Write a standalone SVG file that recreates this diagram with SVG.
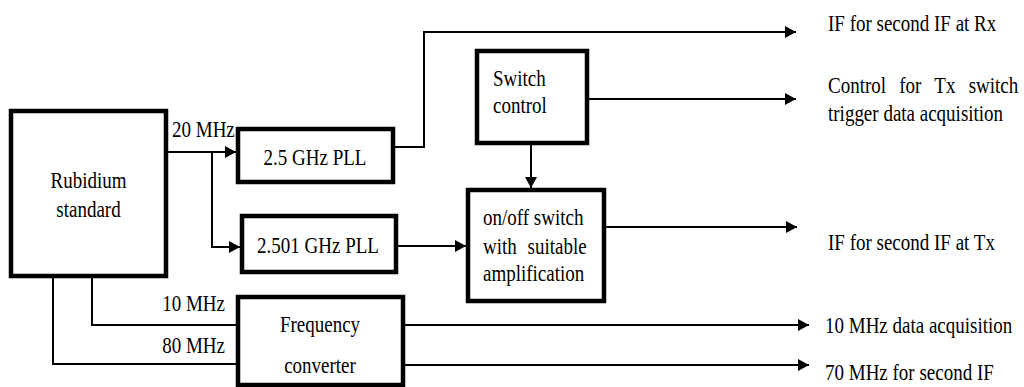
<svg xmlns="http://www.w3.org/2000/svg" width="1024" height="387" viewBox="0 0 1024 387">
  <style>
    .box { fill: #ffffff; stroke: #000000; stroke-width: 4.5; }
    .wire { fill: none; stroke: #000000; stroke-width: 2; }
    .arr { marker-end: url(#head); }
    text { font-family: "Liberation Serif", "Times New Roman", serif; font-size: 19px; fill: #000000; }
    .mid { text-anchor: middle; }
    .end { text-anchor: end; }
  </style>
  <defs>
    <marker id="head" markerUnits="userSpaceOnUse" markerWidth="12" markerHeight="12" refX="11" refY="6" orient="auto">
      <path d="M0,0 L11,6 L0,12 Z" fill="#000000"/>
    </marker>
  </defs>
  <rect width="1024" height="387" fill="#ffffff"/>

  <!-- connectors -->
  <g id="connectors">
    <path class="wire arr" d="M166,152 H236"/>
    <path class="wire arr" d="M212,152 V247 H240"/>
    <path class="wire arr" d="M393,147 H424 V32 H796"/>
    <path class="wire arr" d="M587,99 H796"/>
    <path class="wire arr" d="M531,143 V188"/>
    <path class="wire arr" d="M396,246 H466"/>
    <path class="wire arr" d="M604,227 H797"/>
    <path class="wire" d="M92,276 V325 H238"/>
    <path class="wire" d="M53,276 V364 H238"/>
    <path class="wire arr" d="M403,325 H809"/>
    <path class="wire arr" d="M403,365 H809"/>
  </g>

  <!-- link labels -->
  <g id="link-labels">
    <text transform="matrix(1 0 0 1.25 172 137)">20 MHz</text>
    <text class="end" transform="matrix(1 0 0 1.25 225 311)">10 MHz</text>
    <text class="end" transform="matrix(1 0 0 1.25 225 353)">80 MHz</text>
  </g>

  <g id="rubidium">
    <rect class="box" x="11" y="111" width="155" height="165"/>
    <text class="mid" transform="matrix(1 0 0 1.25 88.5 188)">Rubidium</text>
    <text class="mid" transform="matrix(1 0 0 1.25 88.5 217)">standard</text>
  </g>

  <g id="pll-2500">
    <rect class="box" x="238" y="129" width="155" height="53"/>
    <text class="mid" transform="matrix(1 0 0 1.25 315 165)">2.5 GHz PLL</text>
  </g>

  <g id="pll-2501">
    <rect class="box" x="242" y="216" width="154" height="56"/>
    <text class="mid" transform="matrix(1 0 0 1.25 318 253)">2.501 GHz PLL</text>
  </g>

  <g id="switch-control">
    <rect class="box" x="477" y="51" width="110" height="92"/>
    <text transform="matrix(1 0 0 1.25 493 86)">Switch</text>
    <text transform="matrix(1 0 0 1.25 493 113)">control</text>
  </g>

  <g id="onoff-switch">
    <rect class="box" x="468" y="190" width="136" height="111"/>
    <text transform="matrix(1 0 0 1.25 483 225)">on/off switch</text>
    <text transform="matrix(1 0 0 1.25 483 254)" word-spacing="6">with suitable</text>
    <text transform="matrix(1 0 0 1.25 483 281)">amplification</text>
  </g>

  <g id="freq-converter">
    <rect class="box" x="238" y="297" width="165" height="88"/>
    <text class="mid" transform="matrix(1 0 0 1.25 320 332)">Frequency</text>
    <text class="mid" transform="matrix(1 0 0 1.25 320 373)">converter</text>
  </g>

  <!-- output descriptions -->
  <g id="outputs">
    <text transform="matrix(1 0 0 1.25 828 31)">IF for second IF at Rx</text>
    <text transform="matrix(1 0 0 1.25 828 93)" word-spacing="8.5">Control for Tx switch</text>
    <text transform="matrix(1 0 0 1.25 828 121)">trigger data acquisition</text>
    <text transform="matrix(1 0 0 1.25 828 250)">IF for second IF at Tx</text>
    <text transform="matrix(1 0 0 1.25 825 333)">10 MHz data acquisition</text>
    <text transform="matrix(1 0 0 1.25 825 380)">70 MHz for second IF</text>
  </g>
</svg>
